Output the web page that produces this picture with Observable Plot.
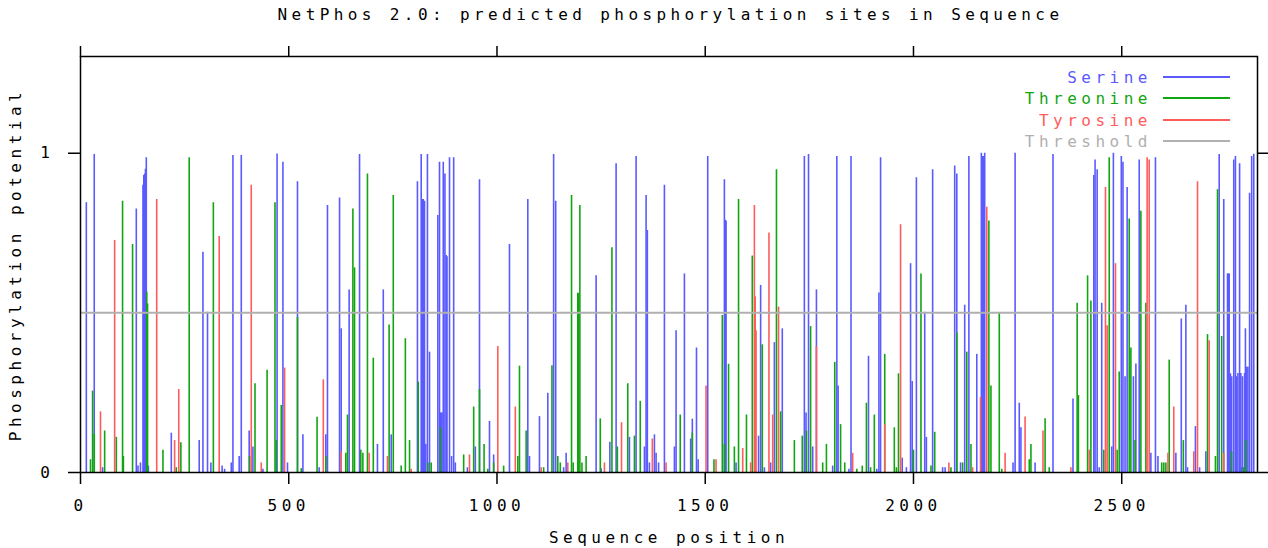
<!DOCTYPE html>
<html>
<head>
<meta charset="utf-8">
<script src="https://cdn.jsdelivr.net/npm/d3@7"></script>
<script src="https://cdn.jsdelivr.net/npm/@observablehq/plot@0.6"></script>
<style>
  html, body { margin: 0; padding: 0; background: #fff; }
  #wrap { position: relative; width: 1268px; height: 548px; font-family: "DejaVu Sans Mono", monospace; overflow: hidden; }
  #title { position: absolute; left: 80px; width: 1177px; top: 1px; height: 28px; line-height: 28px; font-size: 16px; letter-spacing: 4.4px; text-align: center; padding-left: 4px; box-sizing: border-box; color: #000; }
  #chart { position: absolute; left: 0; top: 28px; }
  .lg-text { position: absolute; right: 116px; font-size: 16px; line-height: 16px; letter-spacing: 4.5px; white-space: nowrap; }
  .lg-line { position: absolute; left: 1163px; width: 67px; height: 2px; }
</style>
</head>
<body>
<div id="wrap">
  <div id="title"></div>
  <div id="chart"></div>
  <div id="legend"></div>
</div>
<script>
// ---------------- data ----------------
const titleText = "NetPhos 2.0: predicted phosphorylation sites in Sequence";
const xLabel = "Sequence position";
const yLabel = "Phosphorylation potential";
const seqLength = 2826;
const yMax = 1.303;
const threshold = 0.5;
const xTicks = [0, 500, 1000, 1500, 2000, 2500];
const yTicks = [0, 1];

const seriesNames = ["Serine", "Threonine", "Tyrosine", "Threshold"];
const seriesColors = ["#5a5aff", "#12a512", "#ff5c5c", "#b0b0b0"];

const serinePos = [14,33,53,134,138,144,150,152,154,156,158,163,218,285,294,305,313,340,346,362,366,381,386,405,414,438,472,486,497,521,534,573,589,593,622,626,645,670,713,727,746,809,818,821,823,826,829,833,838,858,862,864,866,868,871,875,878,880,886,891,896,900,929,948,958,982,992,1030,1074,1078,1102,1122,1136,1141,1160,1166,1238,1250,1271,1286,1318,1334,1354,1358,1361,1366,1378,1382,1388,1402,1426,1430,1450,1465,1469,1479,1483,1506,1546,1548,1550,1574,1628,1633,1642,1657,1666,1685,1738,1742,1748,1758,1767,1806,1816,1819,1845,1850,1892,1912,1917,1921,1973,1983,1993,1997,2007,2027,2031,2046,2070,2076,2099,2104,2113,2123,2133,2152,2163,2165,2167,2169,2171,2239,2244,2254,2258,2292,2335,2383,2433,2436,2441,2446,2452,2476,2480,2499,2503,2508,2513,2528,2534,2542,2570,2581,2587,2630,2643,2654,2658,2677,2687,2702,2734,2745,2754,2756,2758,2761,2764,2769,2773,2776,2779,2783,2786,2788,2790,2795,2797,2800,2803,2807,2812,2817];
const serineScore = [0.845,0.996,0.015,0.825,0.02,0.03,0.90,0.93,0.935,0.95,0.986,0.02,0.123,0.10,0.69,0.502,0.03,0.02,0.01,0.03,0.993,0.05,0.993,0.13,0.08,0.01,0.998,0.972,0.03,0.911,0.118,0.015,0.118,0.836,0.86,0.45,0.572,0.996,0.088,0.572,0.118,0.911,0.996,0.855,0.855,0.85,0.088,0.996,0.377,0.805,0.972,0.186,0.186,0.186,0.972,0.935,0.68,0.676,0.986,0.05,0.986,0.03,0.015,0.08,0.917,0.16,0.055,0.714,0.855,0.05,0.175,0.248,0.996,0.85,0.015,0.06,0.616,0.012,0.095,0.967,0.11,0.99,0.08,0.868,0.758,0.03,0.118,0.06,0.03,0.90,0.08,0.444,0.622,0.105,0.167,0.39,0.04,0.99,0.917,0.79,0.788,0.03,0.114,0.586,0.015,0.03,0.407,0.45,0.99,0.186,0.996,0.08,0.572,0.02,0.99,0.271,0.01,0.99,0.364,0.01,0.562,0.986,0.045,0.015,0.654,0.285,0.923,0.502,0.11,0.948,0.015,0.015,0.96,0.935,0.03,0.524,0.99,0.37,1.0,0.99,0.99,0.99,1.0,0.03,1.0,0.217,0.14,0.03,0.996,0.23,0.93,0.979,0.948,0.015,0.53,0.08,1.0,0.99,0.972,0.30,0.893,0.30,0.34,0.979,0.06,0.986,0.05,0.06,0.481,0.524,0.015,0.144,0.015,0.065,0.996,0.855,0.622,0.622,0.622,0.309,0.30,0.979,0.99,0.30,0.31,0.967,0.31,0.015,0.30,0.31,0.45,0.33,0.33,0.875,0.99,0.997];

const threoninePos = [24,29,33,58,86,101,103,125,159,161,198,230,241,261,319,406,419,448,467,470,482,521,530,568,589,637,641,654,658,673,678,689,703,741,751,770,780,790,811,834,842,864,920,944,958,969,978,992,1016,1050,1054,1070,1112,1132,1146,1152,1179,1183,1194,1196,1199,1204,1214,1248,1276,1289,1314,1330,1344,1440,1469,1521,1541,1546,1556,1570,1580,1599,1613,1637,1671,1681,1714,1733,1743,1753,1782,1791,1811,1825,1835,1864,1877,1887,1897,1906,1931,1954,1959,1964,2000,2018,2042,2051,2090,2104,2118,2128,2138,2181,2186,2206,2212,2278,2282,2316,2326,2393,2396,2418,2426,2457,2470,2489,2494,2518,2522,2532,2546,2558,2596,2601,2606,2614,2648,2706,2725,2730,2740,2764,2793,2798];
const threonineScore = [0.04,0.255,0.12,0.13,0.11,0.85,0.05,0.714,0.565,0.528,0.07,0.015,0.093,0.986,0.845,0.05,0.278,0.32,0.845,0.10,0.21,0.486,0.012,0.173,0.05,0.06,0.18,0.825,0.641,0.07,0.06,0.935,0.358,0.462,0.868,0.02,0.419,0.10,0.283,0.03,0.03,0.14,0.055,0.205,0.26,0.088,0.01,0.03,0.02,0.05,0.333,0.13,0.015,0.334,0.05,0.03,0.868,0.03,0.562,0.56,0.836,0.03,0.05,0.168,0.704,0.08,0.278,0.114,0.223,0.18,0.123,0.04,0.492,0.088,0.339,0.08,0.855,0.18,0.678,0.40,0.948,0.19,0.10,0.114,0.13,0.457,0.03,0.088,0.345,0.15,0.03,0.01,0.02,0.217,0.015,0.18,0.37,0.14,0.015,0.309,0.07,0.622,0.02,0.126,0.015,0.437,0.03,0.377,0.088,0.788,0.271,0.499,0.01,0.04,0.088,0.168,0.015,0.53,0.241,0.616,0.537,0.07,0.986,0.07,0.315,0.794,0.39,0.10,0.818,0.53,0.03,0.03,0.03,0.352,0.10,0.432,0.05,0.886,0.426,0.065,0.015,0.10];

const tyrosinePos = [48,82,183,226,236,333,410,434,490,583,626,693,737,794,934,1002,1044,1106,1170,1258,1299,1373,1406,1502,1526,1590,1609,1618,1620,1622,1653,1662,1676,1767,1854,1931,1969,2085,2142,2161,2176,2220,2268,2311,2378,2422,2461,2465,2485,2561,2566,2611,2625,2673,2682,2710,2745];
const tyrosineScore = [0.19,0.727,0.855,0.10,0.26,0.739,0.90,0.03,0.327,0.29,0.065,0.06,0.05,0.01,0.055,0.395,0.205,0.015,0.03,0.03,0.156,0.105,0.03,0.271,0.04,0.075,0.03,0.836,0.55,0.444,0.75,0.18,0.518,0.395,0.06,0.15,0.776,0.03,0.015,0.235,0.831,0.06,0.174,0.13,0.015,0.07,0.893,0.46,0.654,0.986,0.979,0.06,0.205,0.065,0.911,0.413,0.06];

// ---------------- build ----------------
const toRows = (pos, score) => pos.map((p, i) => ({pos: p, score: score[i]}));
const serine = toRows(serinePos, serineScore);
const threonine = toRows(threoninePos, threonineScore);
const tyrosine = toRows(tyrosinePos, tyrosineScore);
const plain = (d) => String(d);

document.getElementById("title").textContent = titleText;

const chart = Plot.plot({
  width: 1268,
  height: 520,
  marginLeft: 80,
  marginRight: 11,
  marginTop: 28,
  marginBottom: 76,
  x: {domain: [0, seqLength]},
  y: {domain: [0, yMax]},
  style: {fontFamily: "DejaVu Sans Mono, monospace", fontSize: "16px", letterSpacing: "4.5px", color: "#000", background: "#fff", overflow: "visible"},
  marks: [
    Plot.ruleX(serine, {x: "pos", y1: 0, y2: "score", stroke: seriesColors[0], strokeWidth: 1.6}),
    Plot.ruleX(threonine, {x: "pos", y1: 0, y2: "score", stroke: seriesColors[1], strokeWidth: 1.6}),
    Plot.ruleX(tyrosine, {x: "pos", y1: 0, y2: "score", stroke: seriesColors[2], strokeWidth: 1.6}),
    Plot.ruleY([threshold], {stroke: seriesColors[3], strokeWidth: 2}),
    Plot.axisX({anchor: "bottom", ticks: xTicks, tickFormat: plain, tickSize: 12, tickPadding: 15, strokeWidth: 1.5,
      label: xLabel, labelAnchor: "center", labelOffset: 70, labelArrow: "none"}),
    Plot.axisX({anchor: "top", ticks: xTicks, tickSize: 11, strokeWidth: 1.5, tickFormat: () => "", label: null}),
    Plot.axisY({anchor: "left", ticks: yTicks, tickFormat: plain, tickSize: 12, tickPadding: 14, strokeWidth: 1.5,
      label: yLabel, labelAnchor: "center", labelOffset: 71, labelArrow: "none"}),
    Plot.axisY({anchor: "right", ticks: yTicks, tickSize: 11, strokeWidth: 1.5, tickFormat: () => "", label: null}),
    Plot.frame({stroke: "#000", strokeWidth: 1.5})
  ]
});
document.getElementById("chart").appendChild(chart);

// legend (inside the plot area, top right)
const legend = document.getElementById("legend");
const rowTop = [70, 91, 112.5, 134];
const lineY = [76, 97, 118.5, 140];
seriesNames.forEach((name, i) => {
  const t = document.createElement("div");
  t.className = "lg-text";
  t.style.top = rowTop[i] + "px";
  t.style.color = seriesColors[i];
  t.textContent = name;
  legend.appendChild(t);
  const l = document.createElement("div");
  l.className = "lg-line";
  l.style.top = lineY[i] + "px";
  l.style.background = seriesColors[i];
  legend.appendChild(l);
});
</script>
</body>
</html>
